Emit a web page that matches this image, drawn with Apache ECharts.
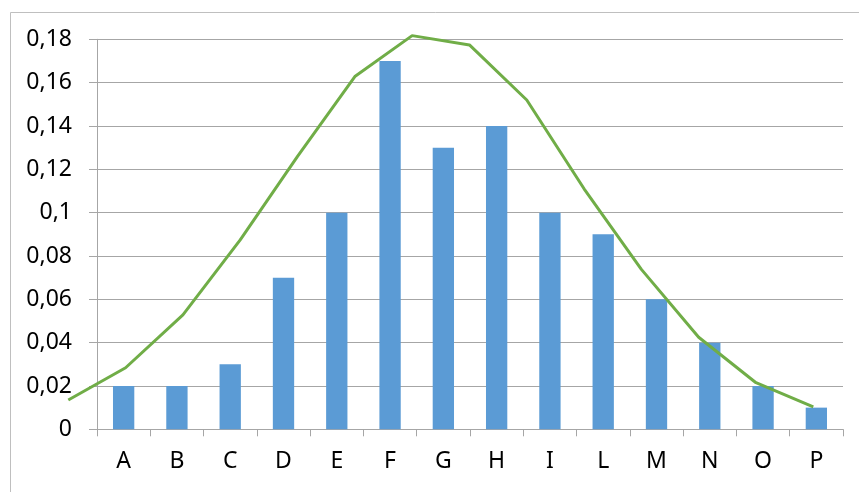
<!DOCTYPE html>
<html>
<head>
<meta charset="utf-8">
<script src="https://cdn.jsdelivr.net/npm/echarts@6/dist/echarts.min.js"></script>
<style>
html,body{margin:0;padding:0;background:#fff;}
#chart{width:859px;height:492px;}
</style>
</head>
<body>
<div id="chart"></div>
<script>
const categories = ['A','B','C','D','E','F','G','H','I','L','M','N','O','P'];
const barValues = [0.02,0.02,0.03,0.07,0.10,0.17,0.13,0.14,0.10,0.09,0.06,0.04,0.02,0.01];
const lineValues = [0.0135,0.0284,0.0528,0.0874,0.126,0.1628,0.1817,0.1774,0.152,0.111,0.0738,0.0425,0.0215,0.0104];
const yMin = 0, yMax = 0.18, yStep = 0.02;

const chart = echarts.init(document.getElementById('chart'), null, {renderer:'canvas'});
const fontFamily = '"Noto Sans", "Open Sans", sans-serif';
const gray = '#A6A6A6';

chart.setOption({
  animation:false,
  backgroundColor:'#fff',
  graphic:[{
    type:'rect', left:8, top:10, z:-10,
    shape:{width:900, height:600},
    style:{fill:'none', stroke:'#BFBFBF', lineWidth:1}
  }],
  grid:[
    {left:97, right:16, top:39.3, bottom:62.7},
    {left:68.3, right:45.7, top:39.3, bottom:62.7}
  ],
  xAxis:[
    {
      type:'category', gridIndex:0, data:categories, boundaryGap:true,
      axisLine:{show:true, lineStyle:{color:gray, width:1}},
      axisTick:{show:true, length:7, lineStyle:{color:gray}},
      axisLabel:{color:'#000', fontSize:23, fontFamily:fontFamily, margin:21},
      splitLine:{show:false}
    },
    {
      type:'category', gridIndex:1, data:categories, boundaryGap:false, show:false
    }
  ],
  yAxis:[
    {
      type:'value', gridIndex:0, min:yMin, max:yMax, interval:yStep,
      axisLine:{show:true, lineStyle:{color:gray, width:1}},
      axisTick:{show:true, length:8, lineStyle:{color:gray}},
      axisLabel:{
        color:'#000', fontSize:23, fontFamily:fontFamily, margin:25,
        formatter:function(v){ return v===0 ? '0' : String(+v.toFixed(2)).replace('.',','); }
      },
      splitLine:{show:true, lineStyle:{color:gray, width:1}}
    },
    {
      type:'value', gridIndex:1, min:yMin, max:yMax, interval:yStep, show:false
    }
  ],
  series:[
    {
      type:'bar', xAxisIndex:0, yAxisIndex:0, data:barValues, barWidth:'40%',
      itemStyle:{color:'#5B9BD5'}, z:2
    },
    {
      type:'line', xAxisIndex:1, yAxisIndex:1, data:lineValues, showSymbol:false, symbol:'none', clip:false,
      lineStyle:{color:'#70AD47', width:3}, itemStyle:{color:'#70AD47'}, z:5
    }
  ]
});
</script>
</body>
</html>
